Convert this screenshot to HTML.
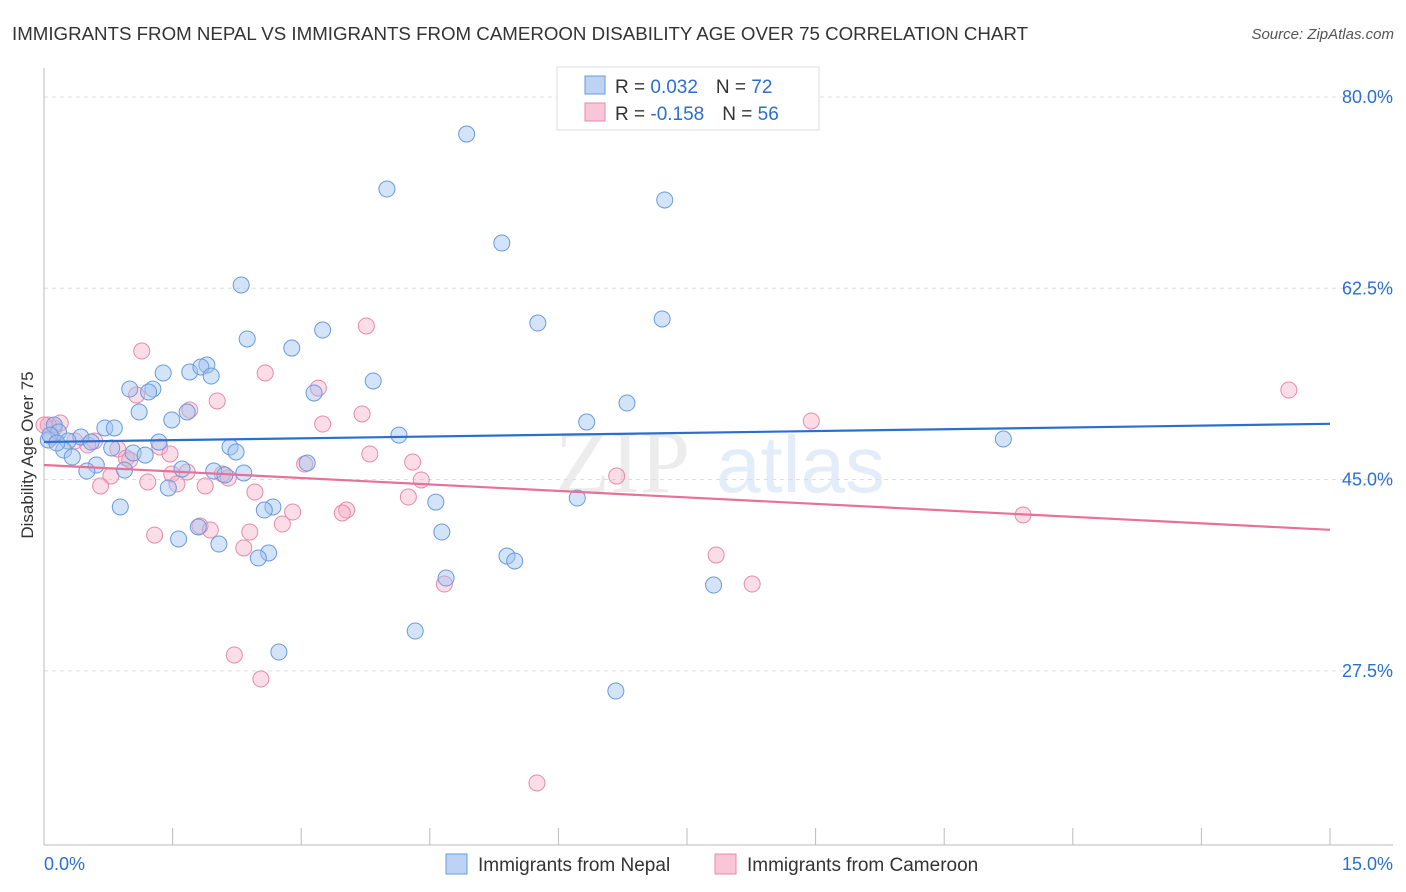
<!DOCTYPE html>
<html><head><meta charset="utf-8"><style>
body{margin:0;background:#fff;font-family:"Liberation Sans",sans-serif;}
svg{display:block}
</style></head><body>
<svg id="chart" width="1406" height="892" xmlns="http://www.w3.org/2000/svg">
<text x="12" y="40" font-size="18.7" fill="#333" textLength="1016" lengthAdjust="spacingAndGlyphs">IMMIGRANTS FROM NEPAL VS IMMIGRANTS FROM CAMEROON DISABILITY AGE OVER 75 CORRELATION CHART</text>
<text x="1394" y="39" font-size="15" fill="#555" font-style="italic" text-anchor="end">Source: ZipAtlas.com</text>
<g opacity="0.18">
<text x="555" y="492" font-size="90" font-family="Liberation Serif,serif" fill="#999">ZIP</text>
<text x="716" y="492" font-size="80" fill="#6a9ae0">atlas</text>
</g>
<g id="grid"></g>
<g id="axes"></g>
<g id="pts-cam"></g>
<g id="pts-nep"></g>
<g id="trends"></g>
<text transform="translate(33,455) rotate(-90)" font-size="17" fill="#333" text-anchor="middle">Disability Age Over 75</text>
<g>
<rect x="557" y="67" width="262" height="63" fill="#fff" stroke="#ddd"/>
<rect x="585" y="76" width="20" height="18" fill="#bcd3f3" stroke="#6a9ae0"/>
<rect x="585" y="103" width="20" height="18" fill="#f8c6d6" stroke="#e88aaa"/>
<text x="615" y="93" font-size="19" fill="#333">R = <tspan fill="#2a6fd0"> 0.032</tspan><tspan dx="18">N = </tspan><tspan fill="#2a6fd0">72</tspan></text>
<text x="615" y="120" font-size="19" fill="#333">R = <tspan fill="#2a6fd0">-0.158</tspan><tspan dx="18">N = </tspan><tspan fill="#2a6fd0">56</tspan></text>
</g>
<g>
<rect x="446" y="854" width="21" height="20" fill="#bcd3f3" stroke="#6a9ae0"/>
<text x="478" y="871" font-size="19" fill="#333">Immigrants from Nepal</text>
<rect x="715" y="854" width="21" height="20" fill="#f8c6d6" stroke="#e88aaa"/>
<text x="747" y="871" font-size="19" fill="#333">Immigrants from Cameroon</text>
</g>
</svg>
<script>
const nepalX=[4.93,4.00,7.24,5.34,2.30,5.76,7.21,3.25,2.37,2.89,1.90,1.70,1.39,1.83,1.95,3.84,1.00,1.27,1.22,3.15,6.80,1.67,1.11,1.49,6.33,0.71,0.82,0.12,0.17,0.43,4.14,11.19,1.34,0.28,0.55,2.17,0.05,0.79,1.04,0.23,2.24,1.18,0.33,0.61,3.07,1.61,0.94,0.50,1.98,2.33,2.11,1.45,4.57,6.22,2.67,2.57,0.89,4.64,1.57,1.80,2.04,5.40,2.62,2.50,5.49,4.69,7.81,4.33,2.74,6.67,0.07,0.15];
const nepalY=[76.61,71.58,70.58,66.64,62.80,59.32,59.69,58.68,57.86,57.03,55.48,54.84,54.75,55.30,54.47,54.02,53.28,53.28,53.01,52.92,52.0,51.18,51.18,50.45,50.26,49.72,49.72,49.99,49.35,48.89,49.07,48.71,48.43,48.53,48.43,47.98,48.62,47.89,47.43,47.70,47.52,47.24,47.06,46.33,46.51,45.96,45.87,45.78,45.78,45.60,45.42,44.23,42.94,43.31,42.49,42.21,42.49,40.20,39.56,40.66,39.10,38.0,38.28,37.82,37.55,35.99,35.35,31.14,29.22,25.65,49.07,48.34];
const camX=[1.14,3.76,2.58,3.20,1.08,2.02,1.70,3.71,3.25,8.95,14.52,0.12,0.19,0.05,0.59,0.51,1.35,1.47,0.86,0.96,3.80,3.04,4.30,1.67,1.49,0.78,0.66,1.21,1.55,1.88,4.40,6.68,2.46,4.25,3.53,3.48,2.90,11.42,2.78,1.82,1.94,1.29,2.40,2.33,4.67,7.84,8.26,2.22,2.53,5.75,0.0,0.09,0.36,1.00,2.08,2.15];
const camY=[56.76,59.05,54.75,53.37,52.73,52.19,51.36,51.0,50.08,50.36,53.19,49.72,50.17,49.99,48.53,48.16,47.98,47.34,47.79,46.97,47.34,46.42,46.60,45.69,45.51,45.32,44.41,44.78,44.59,44.41,44.96,45.32,43.86,43.40,42.21,41.94,42.03,41.76,40.93,40.75,40.38,39.92,40.20,38.74,35.44,38.10,35.44,28.95,26.75,17.24,49.99,48.89,48.53,46.79,45.51,45.14];
const nepalTrend=[48.44,50.1];
const camTrend=[46.33,40.4];
const yTicks=[80,62.5,45,27.5];
const yTickLabels=["80.0%","62.5%","45.0%","27.5%"];
const xTicks=[0,1.5,3,4.5,6,7.5,9,10.5,12,13.5,15];
const NS="http://www.w3.org/2000/svg";
const sx=v=>44+v/15*1286;
const sy=v=>97+(80-v)*10.93;
function mk(tag,attrs,parent){const e=document.createElementNS(NS,tag);for(const k in attrs)e.setAttribute(k,attrs[k]);parent.appendChild(e);return e;}
const grid=document.getElementById('grid'),axes=document.getElementById('axes');
yTicks.forEach((t,i)=>{
  const l=mk('line',{x1:44,x2:1393,y1:sy(t),y2:sy(t),stroke:'#ddd','stroke-dasharray':'4,4'},grid);
  
  
  const tx=mk('text',{x:1393,y:sy(t)+6,'font-size':18,fill:'#2a6fd0','text-anchor':'end'},axes);
  tx.textContent=yTickLabels[i];
  
  
});
mk('line',{x1:44,x2:44,y1:68,y2:845,stroke:'#bbb'},axes);
mk('line',{x1:44,x2:1393,y1:845,y2:845,stroke:'#bbb'},axes);
xTicks.forEach(t=>{
  const l=mk('line',{x1:sx(t),x2:sx(t),y1:828,y2:845,stroke:'#bbb'},axes);
  
  
});
const x0=mk('text',{x:44,y:870,'font-size':18,fill:'#2a6fd0'},axes);x0.textContent='0.0%';


const x1=mk('text',{x:1393,y:870,'font-size':18,fill:'#2a6fd0','text-anchor':'end'},axes);x1.textContent='15.0%';


const pc=document.getElementById('pts-cam');
camX.forEach((x,i)=>{
  const c=mk('circle',{cx:sx(x),cy:sy(camY[i]),r:8,fill:'rgba(245,170,195,0.4)',stroke:'#e88aaa','stroke-width':1},pc);
  
  
});
const pn=document.getElementById('pts-nep');
nepalX.forEach((x,i)=>{
  const c=mk('circle',{cx:sx(x),cy:sy(nepalY[i]),r:8,fill:'rgba(160,195,240,0.45)',stroke:'#6a9ae0','stroke-width':1},pn);
  
  
});
const tr=document.getElementById('trends');
const tn=mk('line',{x1:sx(0),x2:sx(15),y1:sy(nepalTrend[0]),y2:sy(nepalTrend[1]),stroke:'#2a6fd0','stroke-width':2.2},tr);


const tc=mk('line',{x1:sx(0),x2:sx(15),y1:sy(camTrend[0]),y2:sy(camTrend[1]),stroke:'#e87099','stroke-width':2.2},tr);


</script>
</body></html>
